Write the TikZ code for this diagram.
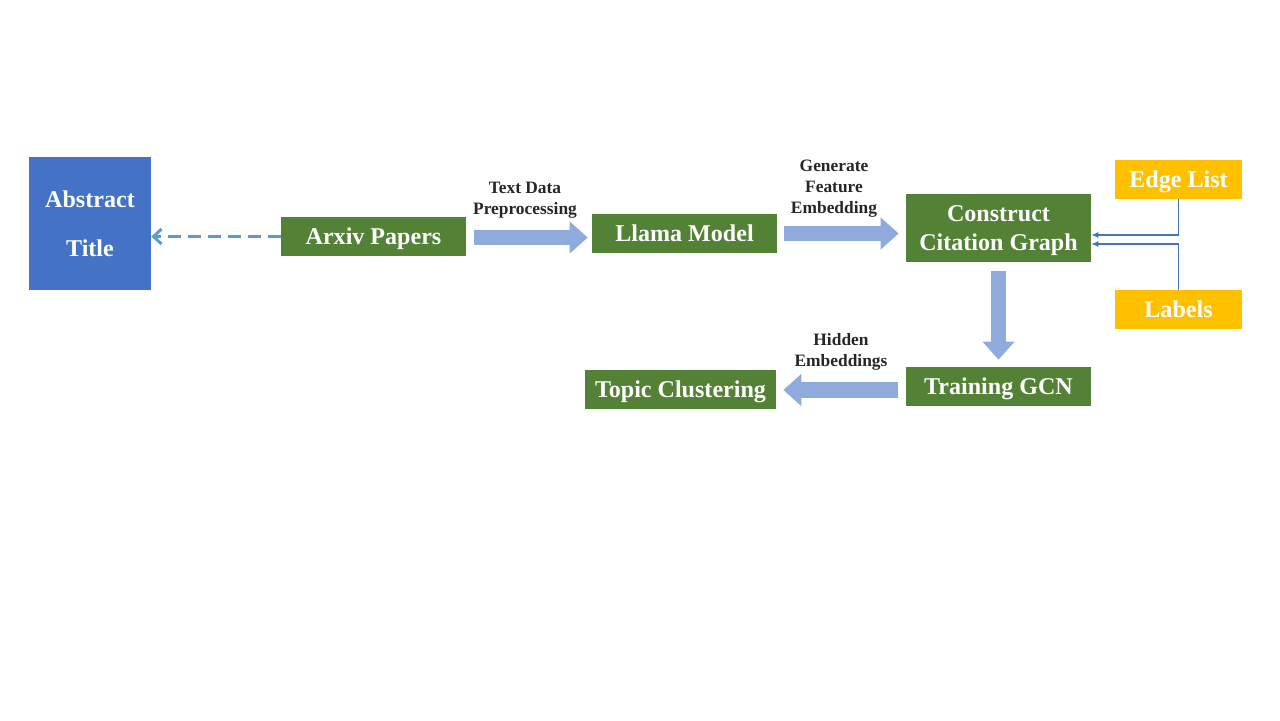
\documentclass[tikz,border=0pt]{standalone}
\usepackage{fontspec}
\setmainfont{Liberation Serif}
\usetikzlibrary{arrows.meta}
\definecolor{boxgreen}{HTML}{538135}
\definecolor{boxblue}{HTML}{4472C4}
\definecolor{boxyellow}{HTML}{FFC000}
\definecolor{flowblue}{HTML}{8FAADC}
\definecolor{dashblue}{HTML}{5B9BD5}
\definecolor{labeltext}{HTML}{262626}
\tikzset{
  stagebox/.style={fill=boxgreen, text=white, inner sep=0pt, align=center,
    font=\bfseries\fontsize{13.7}{16.4}\selectfont, text depth=0pt,
    minimum width=3.7cm, minimum height=0.78cm},
  inputbox/.style={stagebox, fill=boxyellow, minimum width=2.54cm},
  sourcebox/.style={stagebox, fill=boxblue, minimum width=2.44cm, minimum height=2.66cm},
  flowlabel/.style={text=labeltext, align=center, inner sep=0pt,
    font=\bfseries\fontsize{9.9}{11.9}\selectfont},
  flowarrow/.style={draw=flowblue, line width=0.31cm,
    -{Triangle[length=0.36cm,width=0.62cm]}},
  dasharrow/.style={draw=dashblue, line width=0.06cm,
    dash pattern=on 0.26cm off 0.14cm,
    -{Straight Barb[length=0.16cm,width=0.3cm]}},
  feedline/.style={draw=boxblue, line width=0.6pt,
    -{Latex[length=0.14cm,width=0.12cm]}}
}
\begin{document}
\begin{tikzpicture}[x=0.02cm, y=-0.02cm]
  % page frame, 1280 x 720
  \useasboundingbox (0,0) rectangle (1280,720);

  % boxes
  \node[sourcebox] (abstract) at (90,223.5) {Abstract\\[11.5pt]Title};
  \node[stagebox] (arxiv) at (373.5,236.5) {Arxiv Papers};
  \node[stagebox] (llama) at (684.5,233.5) {Llama Model};
  \node[stagebox, minimum height=1.36cm] (construct) at (998.5,228) {Construct\\Citation Graph};
  \node[stagebox] (training) at (998.5,386.5) {Training GCN};
  \node[stagebox, minimum width=3.82cm] (topic) at (680.5,389.5) {Topic Clustering};
  \node[inputbox] (edges) at (1178.5,179.5) {Edge List};
  \node[inputbox] (labels) at (1178.5,309.5) {Labels};

  % arrow labels
  \node[flowlabel] (prep) at (525,200) {Text Data\\Preprocessing};
  \node[flowlabel] (embed) at (834,189) {Generate\\Feature\\Embedding};
  \node[flowlabel] (hidden) at (841,351.5) {Hidden\\Embeddings};

  % main flow
  \draw[flowarrow, shorten <=0.16cm, shorten >=0.08cm] ([yshift=-0.02cm]arxiv.east) -- ([yshift=-0.02cm]arxiv.east -| llama.west);
  \draw[flowarrow, shorten <=0.14cm, shorten >=0.14cm] (llama.east) -- (llama.east -| construct.west);
  \draw[flowarrow, shorten <=0.18cm, shorten >=0.14cm] (construct.south) -- (training.north);
  \draw[flowarrow, shorten <=0.16cm, shorten >=0.14cm] ([yshift=-0.07cm]training.west) -- ([yshift=-0.07cm]training.west -| topic.east);

  % side inputs
  \draw[dasharrow] (arxiv.west) -- (arxiv.west -| abstract.east);
  \draw[feedline] (edges.south) |- ([yshift=-0.14cm]construct.east);
  \draw[feedline] (labels.north) |- ([yshift=-0.32cm]construct.east);
\end{tikzpicture}
\end{document}
